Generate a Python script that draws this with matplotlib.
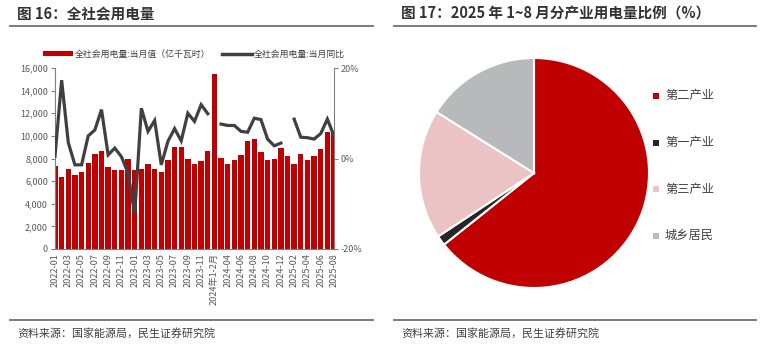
import numpy as np
import matplotlib
matplotlib.use("Agg")
import matplotlib.pyplot as plt
from matplotlib.lines import Line2D
from matplotlib.patches import Patch

plt.rcParams['font.family'] = ['Noto Sans CJK SC', 'DejaVu Sans']

# ---------------- data ----------------
categories = [
    "2022-01", "2022-02", "2022-03", "2022-04", "2022-05", "2022-06",
    "2022-07", "2022-08", "2022-09", "2022-10", "2022-11", "2022-12",
    "2023-01", "2023-02", "2023-03", "2023-04", "2023-05", "2023-06",
    "2023-07", "2023-08", "2023-09", "2023-10", "2023-11", "2023-12",
    "2024年1-2月", "2024-03", "2024-04", "2024-05", "2024-06", "2024-07",
    "2024-08", "2024-09", "2024-10", "2024-11", "2024-12",
    "2025-01", "2025-02", "2025-03", "2025-04", "2025-05", "2025-06",
    "2025-07", "2025-08",
]
monthly_value = [
    7345, 6372, 7110, 6520, 6845, 7580, 8440, 8670, 7230, 6990, 6990, 7995,
    7020, 7080, 7490, 7050, 6845, 7880, 9000, 9000, 7950, 7550, 7760, 8700,
    15460, 8080, 7550, 7900, 8320, 9530, 9760, 8610, 7900, 7960, 8970,
    8260, 7550, 8410, 7880, 8230, 8820, 10380, 10320,
]
nan = float('nan')
monthly_yoy = [
    0.5, 17.3, 3.5, -1.4, -1.4, 5.0, 6.3, 10.8, 0.8, 2.3, 0.4, -3.2,
    -12.3, 11.1, 6.0, 8.4, -1.4, 3.8, 6.6, 3.9, 10.0, 8.2, 11.9, 9.9,
    nan, 7.6, 7.3, 7.3, 6.0, 5.8, 8.9, 8.6, 4.3, 2.8, 3.4,
    nan, 8.7, 4.7, 4.6, 4.3, 5.5, 8.7, 5.0,
]
pie_labels = ["第二产业", "第一产业", "第三产业", "城乡居民"]
pie_shares = [64.3, 1.4, 18.2, 16.1]

# ---------------- styles ----------------
RED = "#C00000"
DARK = "#404040"
TXT = "#595959"
pie_colors = ["#C00000", "#262626", "#EBC3C4", "#B8B9BB"]

W, H = 770, 351
fig = plt.figure(figsize=(W / 100, H / 100), dpi=100)

def fx(px):
    return px / W

def fy(py):
    return 1 - py / H

# titles, rules, sources
fig.text(fx(17), fy(14), "图 16：全社会用电量", fontsize=10.5, fontweight='bold',
         color="#333333", va='center', ha='left')
fig.text(fx(401), fy(14), "图 17：2025 年 1~8 月分产业用电量比例（%）", fontsize=10.5,
         fontweight='bold', color="#333333", va='center', ha='left')
for (x0, x1) in [(10, 373), (394, 756)]:
    fig.add_artist(Line2D([fx(x0), fx(x1)], [fy(25.5), fy(25.5)], color="#6f6f6f", lw=1.3))
    fig.add_artist(Line2D([fx(x0), fx(x1)], [fy(320), fy(320)], color="#6f6f6f", lw=1.3))
fig.text(fx(17), fy(333), "资料来源：国家能源局，民生证券研究院", fontsize=7.9,
         color="#404040", va='center', ha='left')
fig.text(fx(401), fy(333), "资料来源：国家能源局，民生证券研究院", fontsize=7.9,
         color="#404040", va='center', ha='left')

# ---------------- left chart ----------------
ax = fig.add_axes([fx(55), fy(249), fx(334) - fx(55), fy(68) - fy(249)])
x = np.arange(len(categories))
ax.bar(x, monthly_value, width=0.8, color=RED, zorder=2)
ax.set_xlim(0, len(categories) - 1)
ax.set_ylim(0, 16000)
ax.set_yticks(np.arange(0, 16001, 2000))
ax.set_yticklabels([f"{v:,}" for v in range(0, 16001, 2000)])
ax.set_xticks(x[::2])
ax.set_xticklabels(categories[::2], rotation=90)
ax.tick_params(axis='x', length=0, labelsize=6.6, colors=TXT, pad=3)
ax.tick_params(axis='y', length=3, width=0.8, color="#808080", labelsize=6.5,
               colors=TXT, pad=2)
for s in ['top', 'right']:
    ax.spines[s].set_visible(False)
ax.spines['left'].set_color("#808080")
ax.spines['bottom'].set_color("#808080")
ax.spines['left'].set_linewidth(0.8)
ax.spines['bottom'].set_linewidth(0.8)

ax2 = ax.twinx()
ax2.plot(x, monthly_yoy, color=DARK, lw=2.3, zorder=3, solid_joinstyle='miter')
ax2.set_ylim(-20, 20)
ax2.set_yticks([-20, 0, 20])
ax2.set_yticklabels(["-20%", "0%", "20%"])
ax2.tick_params(axis='y', length=3, width=0.8, color="#808080", labelsize=6.5,
                colors=TXT, pad=2)
for s in ['top', 'left', 'bottom']:
    ax2.spines[s].set_visible(False)
ax2.spines['right'].set_color("#808080")
ax2.spines['right'].set_linewidth(0.8)

handles = [Patch(facecolor=RED, edgecolor='none'), Line2D([], [], color=DARK, lw=2.5)]
fig.legend(handles, ["全社会用电量:当月值（亿千瓦时）", "全社会用电量:当月同比"],
           loc='center', bbox_to_anchor=(fx(194), fy(54)), ncol=2, frameon=False,
           fontsize=6.4, handlelength=3.4, handleheight=0.6, handletextpad=0.2,
           columnspacing=1.3, labelcolor="#404040")

# ---------------- right chart ----------------
r = 115
cx, cy = 534, 173
axp = fig.add_axes([fx(cx - r), fy(cy + r), fx(2 * r), (2 * r) / H])
wedges, _ = axp.pie(pie_shares, colors=pie_colors, startangle=90, counterclock=False,
                    wedgeprops=dict(edgecolor='white', linewidth=1.5))
axp.set_xlim(-1.0, 1.0)
axp.set_ylim(-1.0, 1.0)
axp.set_aspect('auto')
axp.axis('off')

for i, (lab, c) in enumerate(zip(pie_labels, pie_colors)):
    yy = [96, 142.7, 189, 235.7][i]
    fig.text(fx(665), fy(yy), lab, fontsize=8.8, color="#404040", va='center', ha='left')
    fig.add_artist(plt.Rectangle((fx(653), fy(yy + 3)), fx(6), 6 / H, facecolor=c,
                                 edgecolor='none', transform=fig.transFigure))

fig.savefig("out.png", dpi=100)
